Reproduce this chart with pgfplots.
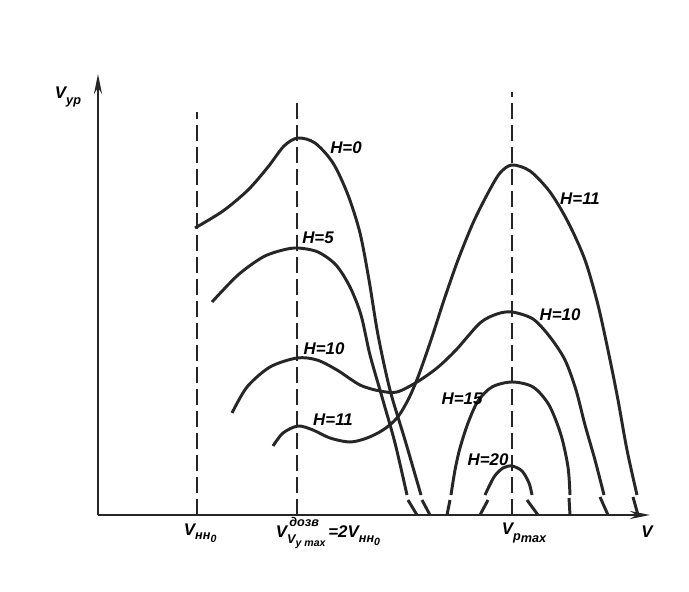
\documentclass[border=0pt]{standalone}
\usepackage{fontspec}
\setmainfont{Liberation Sans}
\usepackage{pgfplots}
\pgfplotsset{compat=1.18}
\usetikzlibrary{arrows.meta}
\newcommand{\lf}{\fontsize{12}{14}\selectfont\bfseries\itshape}
\newcommand{\sub}{\fontsize{9}{10}\selectfont}
\newcommand{\subsub}{\fontsize{7.5}{9}\selectfont}
\begin{document}
\begin{tikzpicture}
\begin{axis}[
 x=0.025cm, y=0.025cm,
 xmin=0, xmax=552, ymin=0, ymax=441,
 axis lines*=left,
 axis line style={line width=1.8pt, black!85, -{Stealth[length=0.5cm,width=0.2cm]}},
 xtick=\empty, ytick=\empty,
 clip=false,
 every axis plot/.append style={line width=2.1pt, black!85, no markers},
]
\path (axis cs:-98,-76) rectangle (axis cs:591,515);
% dashed verticals
\addplot[line width=1.5pt, dash pattern=on 0.4cm off 0.15cm] coordinates {(99,0)(99,403)};
\addplot[line width=1.5pt, dash pattern=on 0.4cm off 0.15cm] coordinates {(199,0)(199,412)};
\addplot[line width=1.5pt, dash pattern=on 0.4cm off 0.15cm] coordinates {(414,0)(414,423)};
% H=0
\addplot[smooth] coordinates {(97,287)(125,304)(150,325)(170,348)(186,369)(200,377)(217,372)(235,352)(250,320)(262,282)(271,235)(280,180)(292,125)(307,75)(323,20)};
\addplot[] coordinates {(324,15)(332,0)};
% H=5
\addplot[smooth] coordinates {(114,213)(140,240)(165,258)(185,265)(200,267)(220,263)(238,250)(252,228)(263,200)(272,160)(284,118)(297,72)(309,20)};
\addplot[] coordinates {(310,15)(319,0)};
% H=10
\addplot[smooth] coordinates {(134,102)(149,128)(172,148)(199,157)(219,155)(239,145)(262,130)(282,124)(299,123)(319,133)(339,147)(358,165)(382,192)(399,201)(414,203)(435,196)(452,178)(467,155)(478,125)(487,90)(497,55)(506,20)};
\addplot[] coordinates {(502,18)(510,0)};
% H=11
\addplot[smooth] coordinates {(175,69)(185,82)(200,89)(215,85)(232,77)(252,73)(269,77)(285,85)(299,97)(310,115)(320,138)(333,175)(346,215)(360,255)(375,292)(390,322)(402,342)(414,350)(432,344)(452,323)(470,293)(487,255)(500,210)(511,160)(520,115)(529,65)(539,20)};
\addplot[] coordinates {(535,18)(540,0)};
% H=15
\addplot[smooth] coordinates {(353,20)(357,45)(362,67)(370,92)(380,114)(394,128)(414,133)(435,128)(451,110)(463,80)(470,48)(472,20)};
\addplot[] coordinates {(352,15)(349,0)};
\addplot[] coordinates {(471,17)(472,0)};
% H=20
\addplot[smooth] coordinates {(387,20)(396,38)(405,47)(414,49)(424,44)(431,32)(434,20)};
\addplot[] coordinates {(390,15)(382,0)};
\addplot[] coordinates {(429,15)(440,0)};
% labels
\node[font=\lf] at (axis cs:-30,418) {V\raisebox{-0.6ex}{\sub ур}};
\node[font=\lf, anchor=west] at (axis cs:81,-18) {V\raisebox{-0.5ex}{\sub нн\raisebox{-0.4ex}{\subsub 0}}};
\node[font=\lf, anchor=west] at (axis cs:173,-18) {V\rlap{\raisebox{1.3ex}{\sub\,дозв}}\raisebox{-0.6ex}{\sub V\raisebox{-0.5ex}{\subsub y max}}\,=2V\raisebox{-0.5ex}{\sub нн\raisebox{-0.4ex}{\subsub 0}}};
\node[font=\lf, anchor=west] at (axis cs:399,-18) {V\raisebox{-0.6ex}{\sub p\raisebox{-0.4ex}{\sub max}}};
\node[font=\lf] at (axis cs:549,-17) {V};
\node[font=\lf] at (axis cs:248,367) {H=0};
\node[font=\lf] at (axis cs:220,277) {H=5};
\node[font=\lf] at (axis cs:226,166) {H=10};
\node[font=\lf] at (axis cs:235,95) {H=11};
\node[font=\lf] at (axis cs:482,316) {H=11};
\node[font=\lf] at (axis cs:462,200) {H=10};
\node[font=\lf] at (axis cs:364,116) {H=15};
\node[font=\lf] at (axis cs:390,55) {H=20};
\end{axis}
\end{tikzpicture}
\end{document}
